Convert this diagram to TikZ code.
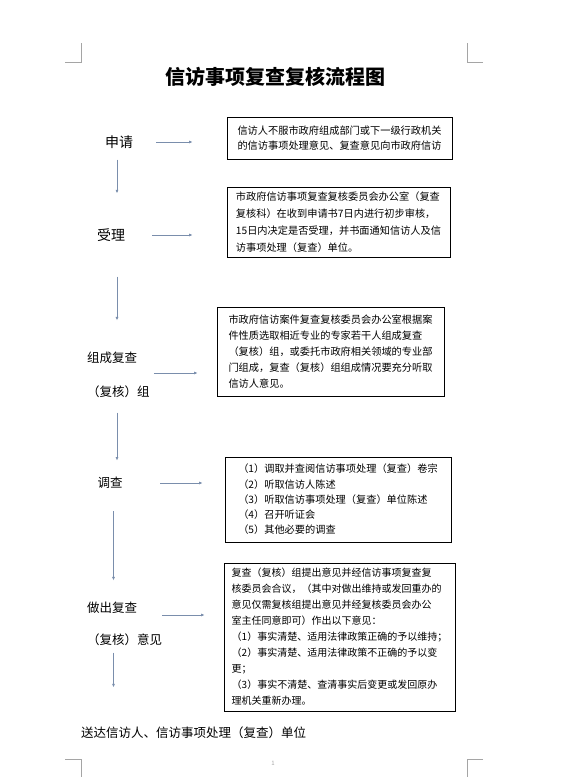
\documentclass[tikz,border=0pt]{standalone}
\usepackage{fontspec}
\setmainfont{Noto Sans CJK SC}
\usepackage{tikz}
\usetikzlibrary{arrows.meta, positioning, calc}
\usepackage{xcolor}
\definecolor{arrowblue}{RGB}{122,142,172}
\definecolor{cropgray}{RGB}{165,165,165}

\begin{document}
\begin{tikzpicture}[x=1pt, y=-1pt, every node/.style={inner sep=0pt}]
  % 定义样式
  \tikzstyle{box}=[rectangle, draw=black, line width=0.8pt, align=left, inner xsep=5pt]
  \tikzstyle{step label}=[align=left, font=\fontsize{13}{13}\selectfont]
  \tikzstyle{arrow}=[draw=arrowblue, line width=0.8pt, -{Latex[length=3.5pt,width=3pt]}]
  \tikzstyle{crop}=[draw=cropgray, line width=0.7pt]

  \useasboundingbox (0,0) rectangle (564,781);

  % 裁剪标记
  \draw[crop] (65,62) -- (81,62) -- (81,43);
  \draw[crop] (483,62) -- (467,62) -- (467,43);
  \draw[crop] (65,759) -- (81,759) -- (81,777);
  \draw[crop] (483,759) -- (467,759) -- (467,777);

  % 标题
  \node (title) at (275,77) {\fontsize{20}{20}\selectfont\bfseries 信访事项复查复核流程图};

  % 步骤
  \node (apply) [step label, font=\fontsize{14}{14}\selectfont] at (119,142) {申请};
  \node (accept) [step label, font=\fontsize{14}{14}\selectfont] at (111,235) {受理};
  \node (group) [step label, font=\fontsize{12.5}{34}\selectfont, anchor=west] at (87,375) {组成复查\\（复核）组};
  \node (survey) [step label, font=\fontsize{12.5}{12.5}\selectfont] at (110,483) {调查};
  \node (opinion) [step label, font=\fontsize{12.5}{32}\selectfont, anchor=west] at (87,624) {做出复查\\（复核）意见};
  \node (deliver) [step label, font=\fontsize{12.5}{12.5}\selectfont, anchor=west] at (81,733) {送达信访人、信访事项处理（复查）单位};

  % 说明框
  \node (b1) [box, minimum width=225pt, minimum height=42pt, font=\fontsize{10.2}{15}\selectfont] at (339.5,138)
    {信访人不服市政府组成部门或下一级行政机关\\的信访事项处理意见、复查意见向市政府信访};
  \node (b2) [box, minimum width=223pt, minimum height=70pt, font=\fontsize{10.2}{17}\selectfont] at (338.5,222)
    {市政府信访事项复查复核委员会办公室（复查\\复核科）在收到申请书7日内进行初步审核，\\15日内决定是否受理，并书面通知信访人及信\\访事项处理（复查）单位。};
  \node (b3) [box, minimum width=227pt, minimum height=89pt, font=\fontsize{10.2}{16}\selectfont] at (330.5,351.5)
    {市政府信访案件复查复核委员会办公室根据案\\件性质选取相近专业的专家若干人组成复查\\（复核）组，或委托市政府相关领域的专业部\\门组成，复查（复核）组组成情况要充分听取\\信访人意见。};
  \node (b4) [box, minimum width=226pt, minimum height=85pt, font=\fontsize{10.2}{15.3}\selectfont] at (338,499.5)
    {（1）调取并查阅信访事项处理（复查）卷宗\\（2）听取信访人陈述\\（3）听取信访事项处理（复查）单位陈述\\（4）召开听证会\\（5）其他必要的调查};
  \node (b5) [box, minimum width=231pt, minimum height=148pt, font=\fontsize{10}{16}\selectfont] at (339.5,637)
    {复查（复核）组提出意见并经信访事项复查复\\核委员会合议，（其中对做出维持或发回重办的\\意见仅需复核组提出意见并经复核委员会办公\\室主任同意即可）作出以下意见：\\（1）事实清楚、适用法律政策正确的予以维持；\\（2）事实清楚、适用法律政策不正确的予以变\\更；\\（3）事实不清楚、查清事实后变更或发回原办\\理机关重新办理。};

  \node (page) [text=cropgray, font=\fontsize{6}{6}\selectfont] at (273,763) {1};

  % 箭头
  \coordinate (colA) at (117,0);
  \coordinate (colB) at (113.5,0);
  \draw[arrow, shorten <=23pt, shorten >=34pt] (apply.east) -- (apply.east -| b1.west);
  \draw[arrow, shorten <=27pt, shorten >=34pt] (accept.east) -- (accept.east -| b2.west);
  \draw[arrow, shorten <=4pt, shorten >=19pt] ([yshift=2pt]group.east) -- ([yshift=2pt]group.east -| b3.west);
  \draw[arrow, shorten <=37.5pt, shorten >=22pt] (survey.east) -- (survey.east -| b4.west);
  \draw[arrow, shorten <=0pt, shorten >=19pt] ([yshift=9pt]opinion.east) -- ([yshift=9pt]opinion.east -| b5.west);

  \draw[arrow, shorten <=11pt, shorten >=35pt] (apply.south -| colA) -- (accept.north -| colA);
  \draw[arrow, shorten <=35pt, shorten >=31.5pt] (accept.south -| colA) -- (group.north -| colA);
  \draw[arrow, shorten <=14.5pt, shorten >=16.5pt] (group.south -| colA) -- (survey.north -| colA);
  \draw[arrow, shorten <=22.5pt, shorten >=21.5pt] (survey.south -| colB) -- (opinion.north -| colB);
  \draw[arrow, shorten <=6.5pt, shorten >=39.5pt] (opinion.south -| colB) -- (deliver.north -| colB);
\end{tikzpicture}
\end{document}
